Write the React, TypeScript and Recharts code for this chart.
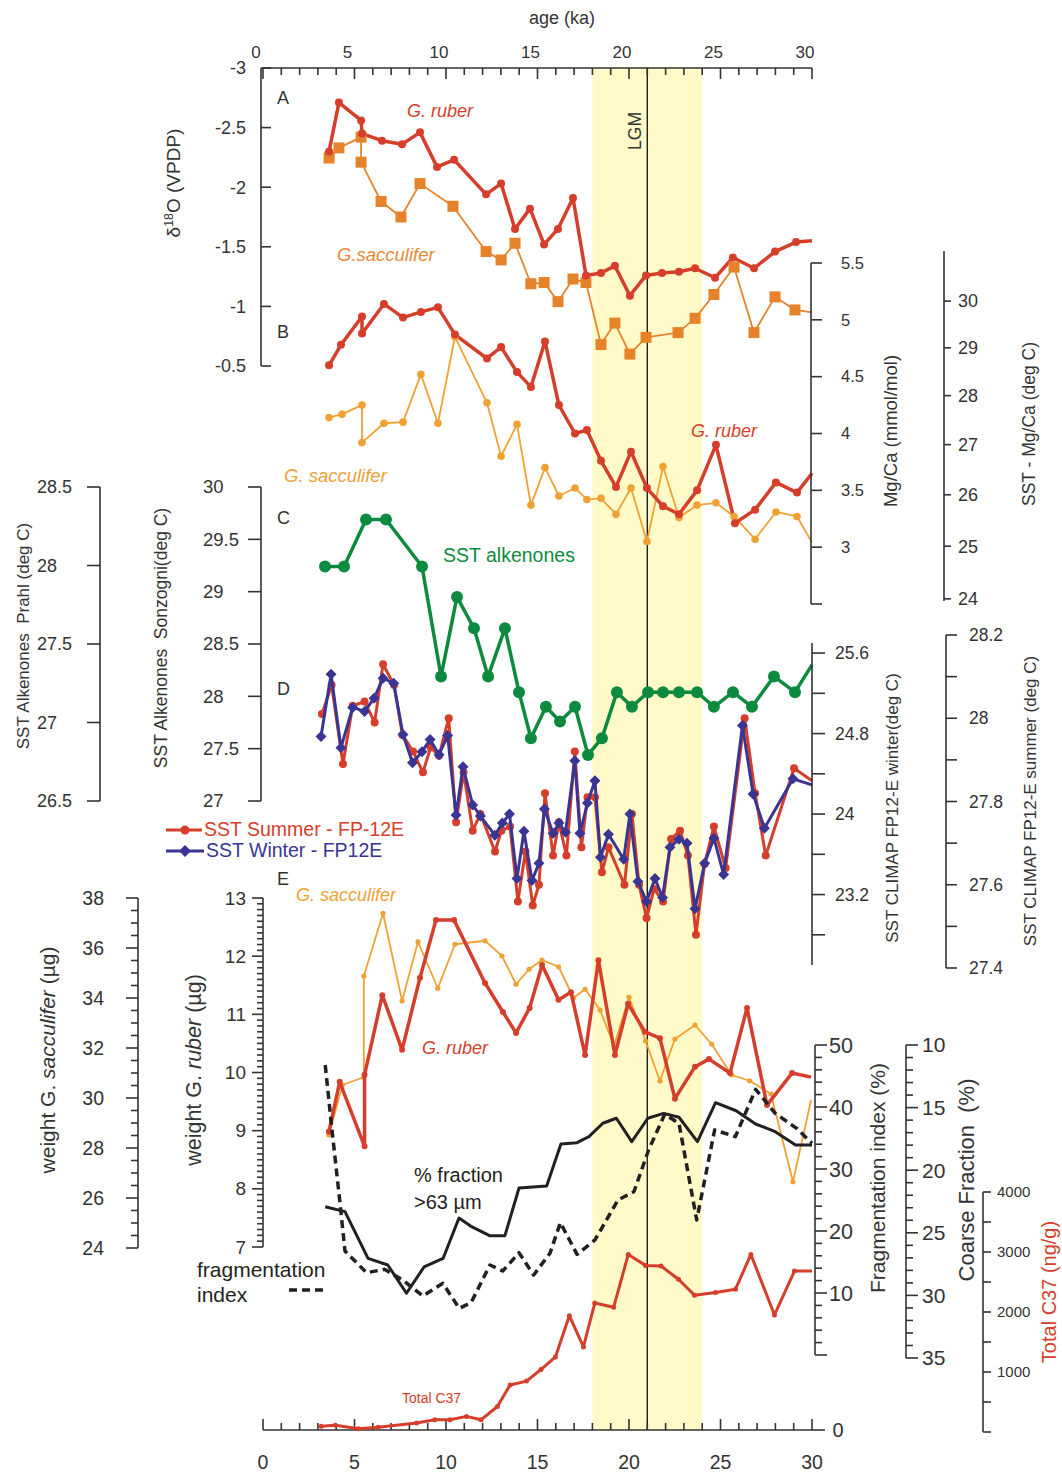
import React from 'react';
import { LineChart, Line, XAxis, YAxis, ReferenceArea, ReferenceLine } from 'recharts';

const FONT = '"Liberation Sans", Arial, Helvetica, sans-serif';
const INK = '#333333';
const RED = '#d53e2a';
const ORANGE_SQ = '#e6822a';
const ORANGE = '#f0a134';
const GREEN = '#0c8a3e';
const NAVY = '#3a3592';
const BLACK = '#231f20';
const YELLOW = '#fffac8';

// page x of age 0 and pixel width of 0..30 ka
const X0 = 263;
const XW = 549;

const range = (a: number, b: number, step: number) =>
  Array.from({ length: Math.round((b - a) / step) + 1 }, (_, i) => Number((a + i * step).toFixed(4)));

// ---- ticks ----
const ageTicks = range(0, 30, 1);
const d18oTicks = [-3, -2.5, -2, -1.5, -1, -0.5];
const mgcaTicks = [2.5, 3, 3.5, 4, 4.5, 5, 5.5];
const sstMgTicks = [24, 25, 26, 27, 28, 29, 30];
const sonzTicks = [27, 27.5, 28, 28.5, 29, 29.5, 30];
const prahlTicks = [26.5, 27, 27.5, 28, 28.5];
const winterTicks = [22.8, 23.2, 23.6, 24, 24.4, 24.8, 25.2, 25.6];
const winterLabels = [23.2, 24, 24.8, 25.6];
const summerTicks = [27.4, 27.5, 27.6, 27.7, 27.8, 27.9, 28, 28.1, 28.2];
const sacWtTicks = range(24, 38, 0.5);
const rubWtTicks = range(7, 13, 0.1);
const fragTicks = range(0, 50, 2);
const coarseTicks = range(10, 35, 1);
const c37Ticks = range(0, 4000, 500);

// ---- A: d18O (VPDP) ----
const aRubAge = [3.61, 4.15, 5.36, 5.41, 6.5, 7.6, 8.58, 9.51, 10.44, 12.19, 13.01, 13.77, 14.59, 15.36, 16.12, 16.94, 17.65, 18.47, 19.23, 20.05, 20.93, 21.8, 22.73, 23.61, 24.7, 25.68, 26.83, 27.98, 29.13, 30];
const aRubD18O = [-2.3, -2.71, -2.56, -2.45, -2.39, -2.36, -2.46, -2.17, -2.23, -1.94, -2.03, -1.65, -1.82, -1.52, -1.65, -1.91, -1.26, -1.28, -1.34, -1.09, -1.26, -1.28, -1.29, -1.32, -1.24, -1.41, -1.32, -1.46, -1.54, -1.55];
const aSacAge = [3.61, 4.15, 5.36, 5.36, 6.45, 7.54, 8.58, 10.38, 12.19, 13.01, 13.77, 14.64, 15.36, 16.12, 16.94, 17.65, 18.47, 19.23, 20.05, 20.93, 22.68, 23.61, 24.64, 25.74, 26.83, 27.98, 29.07, 30];
const aSacD18O = [-2.245, -2.33, -2.42, -2.21, -1.88, -1.75, -2.03, -1.84, -1.46, -1.39, -1.53, -1.19, -1.2, -1.04, -1.23, -1.2, -0.68, -0.86, -0.6, -0.74, -0.78, -0.9, -1.1, -1.33, -0.78, -1.08, -0.97, -0.95];

// ---- B: Mg/Ca (mmol/mol) ----
const bRubAge = [3.61, 4.26, 5.41, 5.41, 6.61, 7.65, 8.63, 9.56, 10.49, 12.24, 13.01, 13.88, 14.64, 15.41, 16.17, 17.05, 17.7, 18.47, 19.29, 20.11, 20.98, 21.86, 22.73, 23.72, 24.75, 25.79, 26.89, 28.03, 29.18, 30];
const bRubMgCa = [4.6, 4.78, 5.03, 4.88, 5.14, 5.02, 5.07, 5.11, 4.87, 4.66, 4.76, 4.54, 4.41, 4.81, 4.25, 4.0, 4.03, 3.76, 3.53, 3.84, 3.52, 3.36, 3.29, 3.5, 3.9, 3.21, 3.33, 3.57, 3.48, 3.65];
const bSacAge = [3.61, 4.32, 5.41, 5.41, 6.61, 7.65, 8.63, 9.56, 10.49, 12.24, 13.01, 13.88, 14.64, 15.41, 16.17, 17.05, 17.7, 18.47, 19.29, 20.11, 20.98, 21.86, 22.73, 23.72, 24.75, 25.74, 26.89, 28.03, 29.18, 30];
const bSacMgCa = [4.14, 4.17, 4.25, 3.92, 4.09, 4.1, 4.52, 4.09, 4.85, 4.27, 3.8, 4.08, 3.37, 3.7, 3.45, 3.52, 3.42, 3.43, 3.29, 3.52, 3.05, 3.71, 3.26, 3.37, 3.39, 3.27, 3.07, 3.31, 3.27, 3.04];

// ---- C: SST alkenones (Sonzogni scale) ----
const cAlkAge = [3.39, 4.43, 5.63, 6.72, 8.69, 9.73, 10.6, 11.53, 12.3, 13.22, 13.99, 14.64, 15.46, 16.23, 17.05, 17.76, 18.52, 19.34, 20.16, 21.04, 21.86, 22.73, 23.72, 24.64, 25.68, 26.72, 27.92, 29.07, 30];
const cAlkSst = [29.24, 29.24, 29.69, 29.69, 29.24, 28.19, 28.95, 28.65, 28.19, 28.65, 28.04, 27.6, 27.9, 27.76, 27.9, 27.44, 27.6, 28.04, 27.9, 28.04, 28.04, 28.04, 28.04, 27.9, 28.04, 27.9, 28.19, 28.04, 28.3];

// ---- D: SST CLIMAP FP12-E ----
const dSumAge = [3.22, 3.75, 4.37, 4.9, 5.55, 6.1, 6.56, 7.16, 7.62, 8.2, 8.74, 9.16, 9.62, 10.15, 10.55, 10.96, 11.46, 11.88, 12.68, 13.03, 13.5, 13.93, 14.34, 14.74, 15.08, 15.41, 15.85, 16.17, 16.58, 17.04, 17.4, 17.73, 18.14, 18.52, 18.88, 19.75, 20.16, 20.55, 20.96, 21.37, 21.86, 22.3, 22.79, 23.22, 23.66, 24.13, 24.64, 25.28, 26.32, 26.89, 27.47, 29.02, 30];
const dSumSst = [28.01, 28.08, 27.89, 28.03, 28.04, 27.99, 28.13, 28.08, 27.96, 27.92, 27.87, 27.93, 27.91, 28.0, 27.75, 27.87, 27.73, 27.77, 27.68, 27.73, 27.74, 27.56, 27.68, 27.55, 27.6, 27.82, 27.67, 27.75, 27.67, 27.92, 27.69, 27.81, 27.81, 27.63, 27.69, 27.6, 27.77, 27.6, 27.52, 27.59, 27.56, 27.71, 27.73, 27.67, 27.48, 27.65, 27.74, 27.64, 28.0, 27.82, 27.67, 27.88, 27.85];
const dWinAge = [3.17, 3.72, 4.26, 4.9, 5.55, 6.07, 6.56, 7.14, 7.65, 8.17, 8.69, 9.13, 9.62, 10.09, 10.55, 10.93, 11.46, 11.88, 12.67, 13.08, 13.47, 13.88, 14.26, 14.7, 15.08, 15.38, 15.85, 16.17, 16.53, 17.04, 17.32, 17.73, 18.14, 18.44, 18.88, 19.71, 20.05, 20.49, 20.96, 21.42, 21.83, 22.24, 22.73, 23.17, 23.61, 24.13, 24.64, 25.17, 26.2, 26.78, 27.4, 28.96, 30];
const dWinSst = [24.77, 25.39, 24.66, 25.06, 25.02, 25.15, 25.35, 25.3, 24.79, 24.51, 24.62, 24.74, 24.59, 24.78, 23.99, 24.47, 24.09, 23.98, 23.79, 23.91, 24.0, 23.36, 23.83, 23.34, 23.51, 24.05, 23.81, 23.91, 23.82, 24.53, 23.81, 24.11, 24.33, 23.57, 23.8, 23.55, 24.0, 23.33, 23.13, 23.36, 23.17, 23.67, 23.75, 23.71, 23.06, 23.51, 23.76, 23.4, 24.88, 24.2, 23.86, 24.35, 24.29];

// ---- E: shell weights, fragmentation, coarse fraction, C37 ----
const eRubAge = [3.6, 4.19, 5.55, 5.55, 6.52, 7.6, 8.58, 9.45, 10.44, 12.13, 13.11, 13.83, 14.57, 15.25, 16.15, 16.83, 17.6, 18.33, 19.23, 19.95, 20.87, 21.69, 22.51, 23.61, 24.37, 25.52, 26.45, 27.54, 28.91, 29.95];
const eRubWt = [8.98, 9.84, 8.73, 9.96, 11.33, 10.39, 11.63, 12.62, 12.62, 11.54, 11.04, 10.68, 11.11, 11.85, 11.25, 11.38, 10.3, 11.93, 10.3, 11.18, 10.7, 10.59, 9.55, 10.1, 10.23, 9.99, 11.11, 9.44, 9.99, 9.92];
const eSacAge = [3.6, 4.34, 5.51, 5.51, 6.56, 7.6, 8.47, 9.55, 10.49, 12.13, 13.06, 13.83, 14.54, 15.25, 16.15, 16.97, 17.6, 18.42, 19.18, 20.0, 20.91, 21.69, 22.51, 23.61, 24.52, 25.61, 26.59, 27.76, 28.96, 29.95];
const eSacWt = [28.52, 30.52, 30.83, 34.88, 37.39, 33.88, 36.25, 34.39, 36.15, 36.29, 35.68, 34.55, 35.15, 35.52, 35.25, 34.01, 34.35, 33.52, 32.08, 34.03, 32.28, 30.68, 32.36, 32.92, 32.15, 30.92, 30.69, 30.16, 26.65, 29.92];
const coarseAge = [3.4, 4.48, 5.74, 6.82, 7.84, 8.8, 9.84, 10.71, 11.4, 12.38, 13.22, 13.99, 15.5, 16.28, 17.16, 17.81, 18.57, 19.31, 20.15, 21.03, 21.89, 22.73, 23.74, 24.73, 25.85, 26.92, 27.99, 29.1, 30];
const coarsePct = [22.92, 23.31, 27.04, 27.57, 29.83, 27.73, 27.05, 23.82, 24.51, 25.23, 25.23, 21.42, 21.26, 17.91, 17.8, 17.32, 16.25, 15.85, 17.72, 15.85, 15.46, 15.77, 17.72, 14.61, 15.25, 16.31, 16.92, 17.99, 17.99];
const fragAge = [3.4, 3.79, 4.19, 4.48, 5.66, 6.64, 7.64, 8.73, 9.83, 10.72, 11.37, 12.4, 13.1, 13.99, 14.79, 15.68, 16.25, 17.16, 18.14, 19.4, 20.27, 21.07, 21.95, 22.73, 23.7, 24.68, 25.81, 26.92, 27.99, 29.16, 30];
const fragPct = [46.77, 35.76, 25.0, 16.77, 13.27, 13.82, 12.1, 9.52, 11.56, 7.53, 8.44, 14.52, 13.55, 16.5, 12.9, 16.4, 21.34, 16.24, 18.55, 25.0, 26.34, 33.06, 38.82, 37.37, 21.77, 36.29, 35.21, 42.85, 38.98, 36.56, 34.15];
const c37Age = [3.18, 3.96, 5.22, 6.29, 8.39, 9.39, 10.22, 11.12, 11.91, 12.81, 13.5, 14.4, 15.19, 15.98, 16.74, 17.51, 18.13, 19.16, 19.96, 20.9, 21.75, 22.7, 23.58, 24.73, 25.82, 26.66, 27.95, 29.04, 30];
const c37Total = [94, 111, 55, 78, 149, 203, 203, 260, 203, 425, 782, 848, 1041, 1251, 1939, 1417, 2149, 2078, 2959, 2777, 2766, 2546, 2281, 2326, 2380, 2959, 1951, 2683, 2683];

// nonlinear SST scale that sits beside the Mg/Ca axis
const K = 0.024;
const sstU = (t: number) => -Math.exp(-K * t);

const isMult = (v: number, m: number) => Math.abs(v / m - Math.round(v / m)) < 1e-6;

type Shape = 'circle' | 'square' | 'diamond' | 'none';

const marker = (shape: Shape, size: number, color: string, n: number) => (p: any) => {
  const { cx, cy, index } = p;
  if (cx == null || cy == null || index === n - 1) return <g key={`m${index}`} />;
  if (shape === 'square')
    return <rect key={`m${index}`} x={cx - size} y={cy - size} width={2 * size} height={2 * size} fill={color} />;
  if (shape === 'diamond')
    return <path key={`m${index}`} d={`M${cx},${cy - size}L${cx + size},${cy}L${cx},${cy + size}L${cx - size},${cy}Z`} fill={color} />;
  return <circle key={`m${index}`} cx={cx} cy={cy} r={size} fill={color} />;
};

function series(ages: number[], vals: number[], color: string, width: number, shape: Shape, size: number, dash?: string) {
  const data = ages.map((age, i) => ({ age, v: vals[i] }));
  return (
    <Line
      data={data}
      dataKey="v"
      type="linear"
      stroke={color}
      strokeWidth={width}
      strokeDasharray={dash}
      strokeLinejoin="round"
      dot={shape === 'none' ? false : marker(shape, size, color, data.length)}
      activeDot={false}
      isAnimationActive={false}
    />
  );
}

function Layer({ top, bottom, domain, reversed, children }: { top: number; bottom: number; domain: [number, number]; reversed?: boolean; children: React.ReactNode }) {
  const pad = 30;
  return (
    <div style={{ position: 'absolute', left: X0 - pad, top: top - pad }}>
      <LineChart width={XW + 2 * pad} height={bottom - top + 2 * pad} margin={{ top: pad, right: pad, bottom: pad, left: pad }}>
        <XAxis type="number" dataKey="age" domain={[0, 30]} hide />
        <YAxis type="number" domain={domain} reversed={reversed} hide />
        {children}
      </LineChart>
    </div>
  );
}

type AxisSpec = {
  x: number;
  top: number;
  bottom: number;
  domain: [number, number];
  reversed?: boolean;
  ticks: number[];
  major?: (v: number) => boolean;
  labels: (v: number) => boolean;
  side: 1 | -1;
  majorLen: number;
  minorLen?: number;
  labelX: number;
  anchor: 'start' | 'end' | 'middle';
  size: number;
  fmt?: (v: number) => string;
};

function VAxis({ s }: { s: AxisSpec }) {
  const pad = 30;
  const AW = 200;
  const fmt = s.fmt ?? ((v: number) => String(v));
  const renderTick = (t: any) => {
    const v = t.payload.value as number;
    const major = s.major ? s.major(v) : true;
    const len = major ? s.majorLen : s.minorLen ?? s.majorLen;
    return (
      <g key={`k${t.index}`}>
        <line x1={AW} x2={AW + s.side * len} y1={t.y} y2={t.y} stroke={INK} strokeWidth={1.6} />
        {s.labels(v) && (
          <text x={AW + s.labelX - s.x} y={t.y} dy="0.35em" textAnchor={s.anchor} fontSize={s.size} fill={INK} fontFamily={FONT}>
            {fmt(v)}
          </text>
        )}
      </g>
    );
  };
  return (
    <div style={{ position: 'absolute', left: s.x - AW, top: s.top - pad }}>
      <LineChart
        width={AW + 120}
        height={s.bottom - s.top + 2 * pad}
        margin={{ top: pad, right: 119, bottom: pad, left: 0 }}
        data={[{ a: 0, v: s.domain[0] }, { a: 1, v: s.domain[1] }]}
      >
        <XAxis type="number" dataKey="a" domain={[0, 1]} hide />
        <YAxis
          type="number"
          orientation="left"
          width={AW}
          domain={s.domain}
          reversed={s.reversed}
          ticks={s.ticks}
          interval={0}
          tickSize={0}
          tickMargin={0}
          tickLine={false}
          axisLine={{ stroke: INK, strokeWidth: 1.6 }}
          tick={renderTick}
        />
        <Line dataKey="v" stroke="none" dot={false} activeDot={false} isAnimationActive={false} />
      </LineChart>
    </div>
  );
}

const axes: AxisSpec[] = [
  { x: 261, top: 68, bottom: 366, domain: [-3, -0.5], reversed: true, ticks: d18oTicks, labels: () => true, side: 1, majorLen: 10, labelX: 246, anchor: 'end', size: 18 },
  { x: 811, top: 263, bottom: 604, domain: [2.5, 5.5], ticks: mgcaTicks, labels: (v) => v >= 3, side: 1, majorLen: 11, labelX: 841, anchor: 'start', size: 16.5 },
  { x: 944, top: 251, bottom: 601, domain: [sstU(23.96), sstU(31.1)], ticks: sstMgTicks.map(sstU), labels: () => true, side: 1, majorLen: 7, labelX: 958, anchor: 'start', size: 18, fmt: (u) => String(Math.round(-Math.log(-u) / K)) },
  { x: 261, top: 487, bottom: 801, domain: [27, 30], ticks: sonzTicks, labels: () => true, side: -1, majorLen: 13, labelX: 203, anchor: 'start', size: 18.5 },
  { x: 100, top: 487, bottom: 801, domain: [26.5, 28.5], ticks: prahlTicks, labels: () => true, side: -1, majorLen: 13, labelX: 37, anchor: 'start', size: 18 },
  { x: 812, top: 643, bottom: 965, domain: [22.5, 25.7], ticks: winterTicks, labels: (v) => winterLabels.includes(v), side: 1, majorLen: 13, labelX: 835, anchor: 'start', size: 17.5 },
  { x: 946, top: 635, bottom: 968, domain: [27.4, 28.2], ticks: summerTicks, labels: (v) => isMult(v, 0.2), side: 1, majorLen: 11, labelX: 969, anchor: 'start', size: 17.5 },
  { x: 138, top: 898, bottom: 1248, domain: [24, 38], ticks: sacWtTicks, major: (v) => isMult(v, 2), labels: (v) => isMult(v, 2), side: -1, majorLen: 12, minorLen: 7, labelX: 104, anchor: 'end', size: 19.5 },
  { x: 263, top: 898, bottom: 1247, domain: [7, 13], ticks: rubWtTicks, major: (v) => isMult(v, 1), labels: (v) => isMult(v, 1), side: -1, majorLen: 11, minorLen: 6, labelX: 246, anchor: 'end', size: 19 },
  { x: 815, top: 1045, bottom: 1355, domain: [0, 50], ticks: fragTicks, major: (v) => isMult(v, 10), labels: (v) => v >= 10 && isMult(v, 10), side: 1, majorLen: 12, minorLen: 7, labelX: 829, anchor: 'start', size: 21.5 },
  { x: 906, top: 1045, bottom: 1358, domain: [10, 35], reversed: true, ticks: coarseTicks, major: (v) => isMult(v, 5), labels: (v) => isMult(v, 5), side: 1, majorLen: 12, minorLen: 7, labelX: 922, anchor: 'start', size: 21 },
  { x: 983, top: 1192, bottom: 1432, domain: [0, 4000], ticks: c37Ticks, labels: (v) => v > 0 && isMult(v, 1000), side: 1, majorLen: 8, labelX: 997, anchor: 'start', size: 15 },
];

function Frame() {
  const topTick = (t: any) => {
    const v = t.payload.value as number;
    const major = v % 5 === 0;
    return (
      <g key={`tt${v}`}>
        <line x1={t.x} x2={t.x} y1={68} y2={68 + (major ? 11 : 7)} stroke={INK} strokeWidth={1.6} />
        {major && (
          <text x={t.x - 7} y={52} dy="0.35em" textAnchor="middle" fontSize={17} fill={INK} fontFamily={FONT}>
            {v}
          </text>
        )}
      </g>
    );
  };
  const bottomTick = (t: any) => {
    const v = t.payload.value as number;
    const major = v % 5 === 0;
    return (
      <g key={`bt${v}`}>
        <line x1={t.x} x2={t.x} y1={1430} y2={1430 - (major ? 11 : 7)} stroke={INK} strokeWidth={1.6} />
        {v === 30 && <line x1={t.x} x2={t.x + 13} y1={1430} y2={1430} stroke={INK} strokeWidth={1.6} />}
        {major && (
          <text x={t.x} y={1462} dy="0.35em" textAnchor="middle" fontSize={19.5} fill={INK} fontFamily={FONT}>
            {v}
          </text>
        )}
      </g>
    );
  };
  return (
    <div style={{ position: 'absolute', left: 0, top: 0 }}>
      <LineChart width={1062} height={1473} margin={{ top: 38, right: 1062 - X0 - XW, bottom: 13, left: X0 }} data={[{ age: 0, v: 0 }, { age: 30, v: 1 }]}>
        <XAxis xAxisId="top" orientation="top" type="number" dataKey="age" domain={[0, 30]} ticks={ageTicks} interval={0} height={30} tickSize={0} tickMargin={0} tickLine={false} axisLine={{ stroke: INK, strokeWidth: 1.6 }} tick={topTick} />
        <XAxis xAxisId="bottom" orientation="bottom" type="number" dataKey="age" domain={[0, 30]} ticks={ageTicks} interval={0} height={30} tickSize={0} tickMargin={0} tickLine={false} axisLine={{ stroke: INK, strokeWidth: 1.6 }} tick={bottomTick} />
        <YAxis type="number" domain={[0, 1]} hide />
        <ReferenceArea xAxisId="bottom" x1={18} x2={24} fill={YELLOW} fillOpacity={1} strokeOpacity={0} />
        <ReferenceLine xAxisId="bottom" x={21} stroke={BLACK} strokeWidth={1.4} />
        <Line xAxisId="bottom" dataKey="v" stroke="none" dot={false} activeDot={false} isAnimationActive={false} />
      </LineChart>
    </div>
  );
}

function Txt({ x, y, size = 18, color = INK, italic, anchor = 'start', children }: { x: number; y: number; size?: number; color?: string; italic?: boolean; anchor?: 'start' | 'middle' | 'end'; children: React.ReactNode }) {
  const tx = anchor === 'start' ? '0' : anchor === 'middle' ? '-50%' : '-100%';
  return (
    <div style={{ position: 'absolute', left: x, top: y, transform: `translate(${tx},-50%)`, fontSize: size, color, fontStyle: italic ? 'italic' : 'normal', whiteSpace: 'pre', lineHeight: 1, fontFamily: FONT }}>
      {children}
    </div>
  );
}

function Rot({ x, y, size = 18, color = INK, children }: { x: number; y: number; size?: number; color?: string; children: React.ReactNode }) {
  return (
    <div style={{ position: 'absolute', left: x, top: y, transform: 'translate(-50%,-50%) rotate(-90deg)', fontSize: size, color, whiteSpace: 'pre', lineHeight: 1, fontFamily: FONT }}>
      {children}
    </div>
  );
}

export default function App() {
  return (
    <div style={{ position: 'relative', width: 1062, height: 1473, background: '#fff', overflow: 'hidden', fontFamily: FONT }}>
      <style>{`body{margin:0} .recharts-surface{overflow:visible}`}</style>
      <Frame />

      {/* A */}
      <Layer top={68} bottom={366} domain={[-3, -0.5]} reversed>
        {series(aSacAge, aSacD18O, ORANGE_SQ, 1.8, 'square', 5.5)}
        {series(aRubAge, aRubD18O, RED, 3.5, 'circle', 4)}
      </Layer>

      {/* B */}
      <Layer top={263} bottom={604} domain={[2.5, 5.5]}>
        {series(bSacAge, bSacMgCa, ORANGE, 1.8, 'circle', 3.8)}
        {series(bRubAge, bRubMgCa, RED, 3.5, 'circle', 4)}
      </Layer>

      {/* C */}
      <Layer top={487} bottom={801} domain={[27, 30]}>
        {series(cAlkAge, cAlkSst, GREEN, 3.5, 'circle', 6)}
      </Layer>

      {/* D */}
      <Layer top={635} bottom={968} domain={[27.4, 28.2]}>
        {series(dSumAge, dSumSst, RED, 3, 'circle', 4)}
      </Layer>
      <Layer top={643} bottom={965} domain={[22.5, 25.7]}>
        {series(dWinAge, dWinSst, NAVY, 3, 'diamond', 5.5)}
      </Layer>

      {/* E */}
      <Layer top={898} bottom={1248} domain={[24, 38]}>
        {series(eSacAge, eSacWt, ORANGE, 1.8, 'circle', 2.6)}
      </Layer>
      <Layer top={898} bottom={1247} domain={[7, 13]}>
        {series(eRubAge, eRubWt, RED, 3.5, 'circle', 3)}
      </Layer>
      <Layer top={1045} bottom={1358} domain={[10, 35]} reversed>
        {series(coarseAge, coarsePct, BLACK, 3, 'none', 0)}
      </Layer>
      <Layer top={1045} bottom={1355} domain={[0, 50]}>
        {series(fragAge, fragPct, BLACK, 3.5, 'none', 0, '8 5')}
      </Layer>
      <Layer top={1192} bottom={1432} domain={[0, 4000]}>
        {series(c37Age, c37Total, RED, 3, 'circle', 2.5)}
      </Layer>

      {axes.map((s, i) => (
        <VAxis key={i} s={s} />
      ))}

      {/* axis titles */}
      <Txt x={562} y={18} anchor="middle" size={18}>age (ka)</Txt>
      <Rot x={173} y={183} size={19}>
        δ<sup style={{ fontSize: '0.65em' }}>18</sup>O (VPDP)
      </Rot>
      <Rot x={891} y={431} size={18.5}>Mg/Ca (mmol/mol)</Rot>
      <Rot x={1030} y={424} size={17.5}>SST - Mg/Ca (deg C)</Rot>
      <Rot x={162} y={638} size={17.5}>SST Alkenones  Sonzogni(deg C)</Rot>
      <Rot x={23} y={636} size={17}>SST Alkenones  Prahl (deg C)</Rot>
      <Rot x={892} y={808} size={17}>SST CLIMAP FP12-E winter(deg C)</Rot>
      <Rot x={1030} y={801} size={17}>SST CLIMAP FP12-E summer (deg C)</Rot>
      <Rot x={47} y={1060} size={21}>
        weight G. <i>sacculifer</i> (µg)
      </Rot>
      <Rot x={195} y={1070} size={21.5}>
        weight G. <i>ruber</i> (µg)
      </Rot>
      <Rot x={877} y={1178} size={21}>Fragmentation index (%)</Rot>
      <Rot x={967} y={1180} size={22}>Coarse Fraction  (%)</Rot>
      <Rot x={1049} y={1292} size={20} color={RED}>Total C37 (ng/g)</Rot>
      <Rot x={636} y={131} size={17.5}>LGM</Rot>
      <Txt x={838} y={1430} anchor="middle" size={20}>0</Txt>

      {/* panel letters */}
      <Txt x={277} y={98}>A</Txt>
      <Txt x={277} y={332}>B</Txt>
      <Txt x={277} y={518}>C</Txt>
      <Txt x={277} y={689}>D</Txt>
      <Txt x={277} y={879}>E</Txt>

      {/* in-plot labels */}
      <Txt x={407} y={111} italic color={RED}>G. ruber</Txt>
      <Txt x={337} y={255} italic color="#ea8a34" size={18.5}>G.sacculifer</Txt>
      <Txt x={691} y={431} italic color={RED}>G. ruber</Txt>
      <Txt x={284} y={476} italic color={ORANGE} size={18.5}>G. sacculifer</Txt>
      <Txt x={443} y={556} color={GREEN} size={19.5}>SST alkenones</Txt>
      <Txt x={296} y={895} italic color={ORANGE}>G. sacculifer</Txt>
      <Txt x={422} y={1048} italic color={RED}>G. ruber</Txt>
      <Txt x={414} y={1175} size={20} color={BLACK}>% fraction</Txt>
      <Txt x={414} y={1202} size={20} color={BLACK}>{'>63 µm'}</Txt>
      <Txt x={197} y={1269} size={21} color={BLACK}>fragmentation</Txt>
      <Txt x={197} y={1294} size={21} color={BLACK}>index</Txt>
      <Txt x={402} y={1398} size={14} color={RED}>Total C37</Txt>

      {/* legend for D and dashed key for fragmentation */}
      <svg style={{ position: 'absolute', left: 0, top: 0, overflow: 'visible' }} width={1} height={1}>
        <line x1={166} x2={202} y1={830} y2={830} stroke={RED} strokeWidth={3} />
        <circle cx={185} cy={830} r={4.5} fill={RED} />
        <line x1={166} x2={204} y1={851} y2={851} stroke={NAVY} strokeWidth={3} />
        <path d="M185,845L191,851L185,857L179,851Z" fill={NAVY} />
        <line x1={289} x2={326} y1={1290} y2={1290} stroke={BLACK} strokeWidth={3.5} strokeDasharray="8 5" />
      </svg>
      <Txt x={204} y={830} size={19.5} color={RED}>SST Summer - FP-12E</Txt>
      <Txt x={206} y={851} size={19.5} color={NAVY}>SST Winter - FP12E</Txt>
    </div>
  );
}
